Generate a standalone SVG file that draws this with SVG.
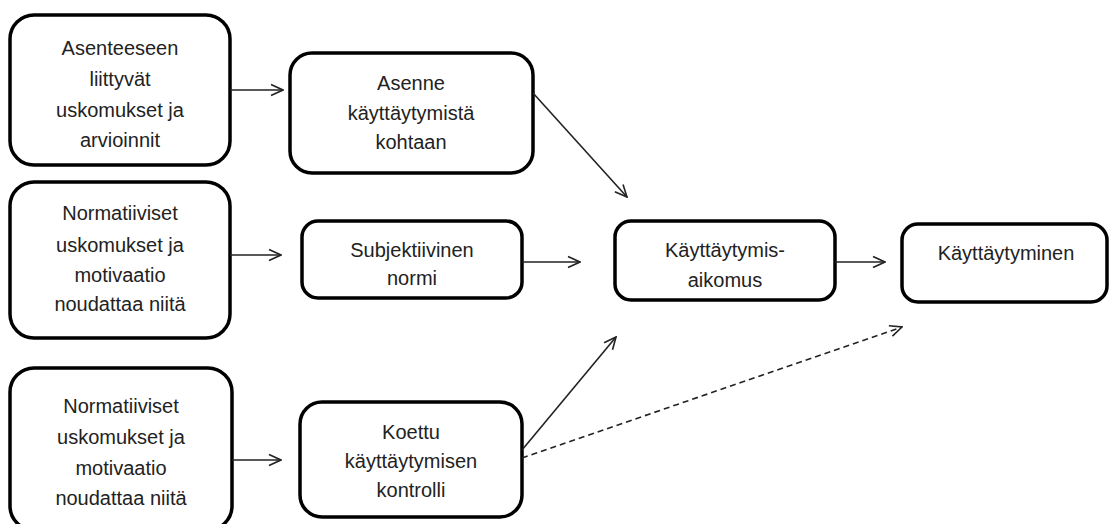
<svg xmlns="http://www.w3.org/2000/svg" width="1110" height="524" viewBox="0 0 1110 524">
  <defs>
    <marker id="arrow" viewBox="0 0 14 14" refX="13" refY="7" markerWidth="14" markerHeight="14" markerUnits="userSpaceOnUse" orient="auto">
      <path d="M1,1.5 L13,7 L1,12.5" fill="none" stroke="#222" stroke-width="1.6"/>
    </marker>
    <style>
      .box { fill: #fff; stroke: #000; stroke-width: 3.5; }
      .lbl { font-family: "Liberation Sans", Arial, sans-serif; font-size: 20px; fill: #222; text-anchor: middle; dominant-baseline: central; }
      .edge { fill: none; stroke: #222; stroke-width: 1.6; marker-end: url(#arrow); }
      .dash { stroke-dasharray: 6 4; }
    </style>
  </defs>
  <rect width="1110" height="524" fill="#fff"/>

  <g id="n-asenne-uskomukset">
    <rect class="box" x="10" y="15" width="220" height="150" rx="24"/>
    <text class="lbl" x="120" y="48">Asenteeseen</text>
    <text class="lbl" x="120" y="79">liittyvät</text>
    <text class="lbl" x="120" y="110">uskomukset ja</text>
    <text class="lbl" x="120" y="140">arvioinnit</text>
  </g>

  <g id="n-asenne">
    <rect class="box" x="290" y="53" width="243" height="120" rx="22"/>
    <text class="lbl" x="411" y="83">Asenne</text>
    <text class="lbl" x="411" y="113">käyttäytymistä</text>
    <text class="lbl" x="411" y="142">kohtaan</text>
  </g>

  <g id="n-normatiiviset-1">
    <rect class="box" x="10" y="182" width="220" height="156" rx="24"/>
    <text class="lbl" x="120" y="213">Normatiiviset</text>
    <text class="lbl" x="120" y="245">uskomukset ja</text>
    <text class="lbl" x="120" y="275">motivaatio</text>
    <text class="lbl" x="120" y="304">noudattaa niitä</text>
  </g>

  <g id="n-subjektiivinen">
    <rect class="box" x="302" y="221" width="220" height="77" rx="16"/>
    <text class="lbl" x="412" y="250">Subjektiivinen</text>
    <text class="lbl" x="412" y="278">normi</text>
  </g>

  <g id="n-aikomus">
    <rect class="box" x="615" y="221" width="220" height="79" rx="16"/>
    <text class="lbl" x="725" y="250">Käyttäytymis-</text>
    <text class="lbl" x="725" y="280">aikomus</text>
  </g>

  <g id="n-kayttaytyminen">
    <rect class="box" x="902" y="224" width="205" height="78" rx="16"/>
    <text class="lbl" x="1006" y="253">Käyttäytyminen</text>
  </g>

  <g id="n-normatiiviset-2">
    <rect class="box" x="10" y="368" width="222" height="162" rx="24"/>
    <text class="lbl" x="121" y="406">Normatiiviset</text>
    <text class="lbl" x="121" y="437">uskomukset ja</text>
    <text class="lbl" x="121" y="468">motivaatio</text>
    <text class="lbl" x="121" y="498">noudattaa niitä</text>
  </g>

  <g id="n-koettu">
    <rect class="box" x="300" y="402" width="222" height="115" rx="22"/>
    <text class="lbl" x="411" y="432">Koettu</text>
    <text class="lbl" x="411" y="461">käyttäytymisen</text>
    <text class="lbl" x="411" y="490">kontrolli</text>
  </g>

  <g id="connectors">
    <line class="edge" x1="230" y1="90" x2="283" y2="90"/>
    <line class="edge" x1="230" y1="255" x2="281" y2="255"/>
    <line class="edge" x1="232" y1="460" x2="281" y2="460"/>
    <line class="edge" x1="522" y1="262" x2="580" y2="262"/>
    <line class="edge" x1="835" y1="262" x2="885" y2="262"/>
    <line class="edge" x1="533" y1="93" x2="627" y2="197"/>
    <line class="edge" x1="522" y1="450" x2="616" y2="337"/>
    <line class="edge dash" x1="522" y1="458" x2="902" y2="327"/>
  </g>
</svg>
